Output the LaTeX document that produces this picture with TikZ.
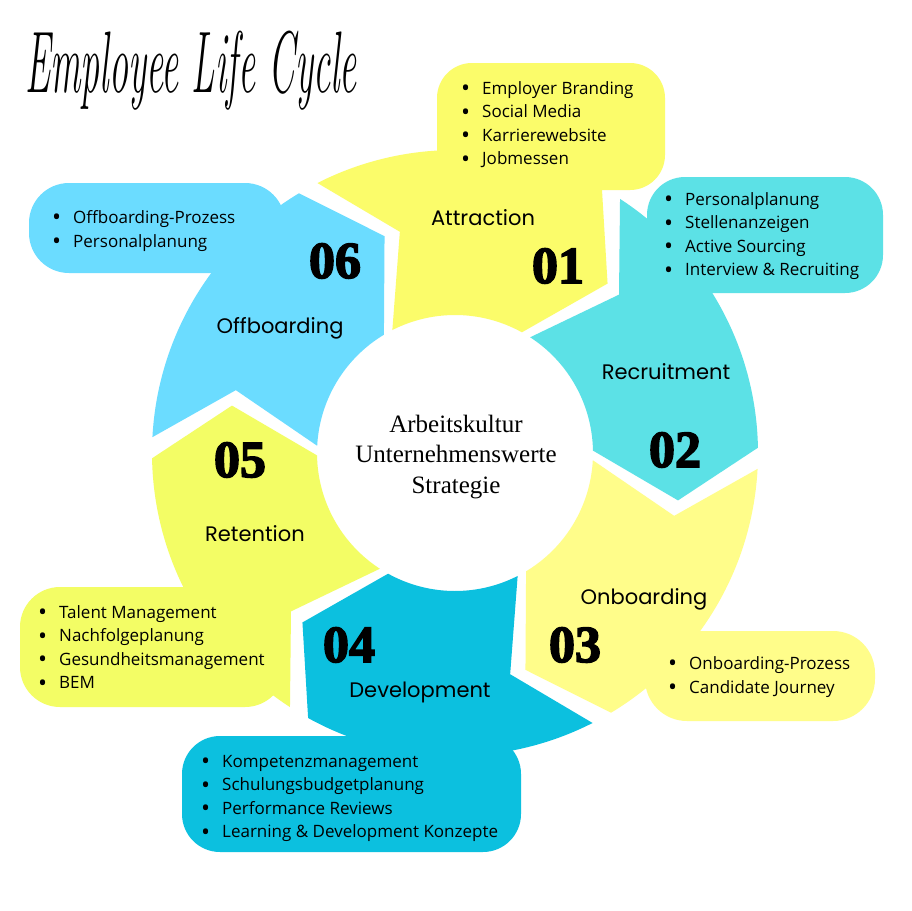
\documentclass[tikz,border=0pt]{standalone}
\usepackage{fontspec}
\newfontfamily\itemfont{Open Sans}
\newfontfamily\labfont{Poppins}
\newfontfamily\numfont{Liberation Serif}[UprightFont={* Bold},FakeBold=3]
\newfontfamily\ctrfont{Liberation Serif}
\definecolor{cA}{HTML}{FBFC6A}
\definecolor{cB}{HTML}{5CE1E6}
\definecolor{cC}{HTML}{FFFD8A}
\definecolor{cD}{HTML}{0CC0DF}
\definecolor{cE}{HTML}{F3FD65}
\definecolor{cF}{HTML}{6BDCFF}
\newcommand\bul{\llap{\raisebox{-2.6pt}{\fontsize{24}{24}\selectfont•}\hspace{12pt}}}
\begin{document}
\begin{tikzpicture}[x=1pt,y=-1pt,
  item/.style={anchor=base west, inner sep=0pt, font=\itemfont\fontsize{17}{20}\selectfont},
  lab/.style={anchor=base, inner sep=0pt, font=\labfont\fontsize{21}{25}\selectfont},
  num/.style={anchor=base, inner sep=0pt, font=\numfont\fontsize{52}{52}\selectfont},
  ctr/.style={anchor=base, inner sep=0pt, font=\ctrfont\fontsize{25}{30}\selectfont},
  bubble/.style={rounded corners=#1}]
\fill[white] (0,0) rectangle (911,911);
\useasboundingbox (0,0) rectangle (911,911);

% speech bubbles
\fill[cA, bubble=35] (437,63) rectangle (665,190);
\fill[cB, bubble=38] (647,177) rectangle (883,293);
\fill[cC, bubble=42] (645,631) rectangle (875,721);
\fill[cD, bubble=38] (182,736) rectangle (521,852);
\fill[cE, bubble=40] (20,587) rectangle (285,707);
\fill[cF, bubble=40] (29,183) rectangle (285,273);

% ring of arrow segments
\begin{scope}[shift={(455,453)}, yscale=-1]
\def\Ro{303}\def\Ri{138}\def\Rm{228}
\foreach \T/\col [evaluate=\T as \L using \T-56, evaluate=\T as \P using \T-69,
                  evaluate=\T as \N using \T-13] in
   {117/cA,57/cB,-3/cC,-63/cD,-123/cE,177/cF}
{
  \fill[\col] plot[domain=\T:\L, samples=60] (\x:\Ro) -- (\P:\Rm) -- (\L:\Ri)
     -- plot[domain=\L:\T, samples=40] (\x:\Ri) -- (\N:\Rm) -- cycle;
}
\end{scope}

% title
\node[anchor=base west, inner sep=0pt] (title) at (25,92)
  {\scalebox{1.0}[2.3]{\fontsize{38}{40}\selectfont\itshape Employee Life Cycle}};

% centre text
\node[ctr] (c1) at (456,432) {Arbeitskultur};
\node[ctr] (c2) at (456,462) {Unternehmenswerte};
\node[ctr] (c3) at (456,493) {Strategie};

% stage labels
\node[lab] (l1) at (483,225) {Attraction};
\node[lab] (l2) at (666,379) {Recruitment};
\node[lab] (l3) at (644,604) {Onboarding};
\node[lab] (l4) at (420,697) {Development};
\node[lab] (l5) at (255,541) {Retention};
\node[lab] (l6) at (280,333) {Offboarding};

% numbers
\node[num] (n1) at (558,283) {01};
\node[num] (n2) at (675,467) {02};
\node[num] (n3) at (575,662) {03};
\node[num] (n4) at (349,662) {04};
\node[num] (n5) at (240,477) {05};
\node[num] (n6) at (335,278) {06};

% bullet lists
\foreach \t [count=\i] in {Employer Branding,Social Media,Karrierewebsite,Jobmessen}
  \node[item] (a\i) at (482,{94+(\i-1)*23.6}) {\bul\t};
\foreach \t [count=\i] in {Personalplanung,Stellenanzeigen,Active Sourcing,Interview \& Recruiting}
  \node[item] (b\i) at (685,{205+(\i-1)*23.6}) {\bul\t};
\foreach \t [count=\i] in {Onboarding-Prozess,Candidate Journey}
  \node[item] (o\i) at (689,{669+(\i-1)*24}) {\bul\t};
\foreach \t [count=\i] in {Kompetenzmanagement,Schulungsbudgetplanung,Performance Reviews,Learning \& Development Konzepte}
  \node[item] (d\i) at (222,{767+(\i-1)*23.6}) {\bul\t};
\foreach \t [count=\i] in {Talent Management,Nachfolgeplanung,Gesundheitsmanagement,BEM}
  \node[item] (r\i) at (59,{618+(\i-1)*23.6}) {\bul\t};
\foreach \t [count=\i] in {Offboarding-Prozess,Personalplanung}
  \node[item] (f\i) at (73,{223+(\i-1)*24}) {\bul\t};
\end{tikzpicture}
\end{document}
